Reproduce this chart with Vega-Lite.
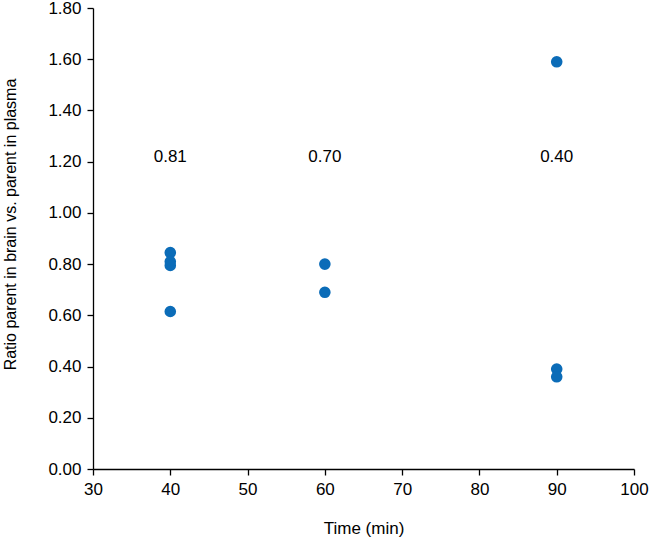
{
  "$schema": "https://vega.github.io/schema/vega-lite/v6.json",
  "width": 541,
  "height": 461,
  "autosize": {"type": "none"},
  "padding": {"left": 93, "top": 8, "right": 15, "bottom": 73},
  "background": "white",
  "config": {
    "view": {"stroke": null},
    "font": "Liberation Sans",
    "axis": {
      "grid": false,
      "domainColor": "#000000",
      "domainWidth": 1.3,
      "tickColor": "#000000",
      "tickWidth": 1.3,
      "tickSize": 6,
      "labelFont": "Liberation Sans",
      "labelFontSize": 17,
      "labelColor": "#000000",
      "labelFlush": false,
      "titleFont": "Liberation Sans",
      "titleFontSize": 16,
      "titleFontWeight": "normal",
      "titleColor": "#000000"
    }
  },
  "datasets": {
    "points": [
      {"time": 40, "ratio": 0.845},
      {"time": 40, "ratio": 0.81},
      {"time": 40, "ratio": 0.795},
      {"time": 40, "ratio": 0.615},
      {"time": 60, "ratio": 0.80},
      {"time": 60, "ratio": 0.69},
      {"time": 90, "ratio": 1.59},
      {"time": 90, "ratio": 0.39},
      {"time": 90, "ratio": 0.36}
    ],
    "labels": [
      {"time": 40, "ratio": 1.22, "label": "0.81"},
      {"time": 60, "ratio": 1.22, "label": "0.70"},
      {"time": 90, "ratio": 1.22, "label": "0.40"}
    ]
  },
  "layer": [
    {
      "data": {"name": "points"},
      "mark": {"type": "circle", "size": 135, "color": "#0b6cb8", "opacity": 1},
      "encoding": {
        "x": {
          "field": "time", "type": "quantitative",
          "scale": {"domain": [30, 100], "nice": false, "zero": false},
          "axis": {"values": [30, 40, 50, 60, 70, 80, 90, 100], "title": "Time (min)", "titleFontSize": 17, "labelPadding": 6, "titlePadding": 23}
        },
        "y": {
          "field": "ratio", "type": "quantitative",
          "scale": {"domain": [0, 1.8], "nice": false},
          "axis": {"values": [0, 0.2, 0.4, 0.6, 0.8, 1.0, 1.2, 1.4, 1.6, 1.8], "format": ".2f", "title": "Ratio parent in brain vs. parent in plasma", "labelPadding": 6, "titlePadding": 29, "titleY": 216}
        }
      }
    },
    {
      "data": {"name": "labels"},
      "mark": {"type": "text", "fontSize": 17, "font": "Liberation Sans", "color": "#000000", "baseline": "middle", "align": "center"},
      "encoding": {
        "x": {"field": "time", "type": "quantitative"},
        "y": {"field": "ratio", "type": "quantitative"},
        "text": {"field": "label"}
      }
    }
  ]
}
